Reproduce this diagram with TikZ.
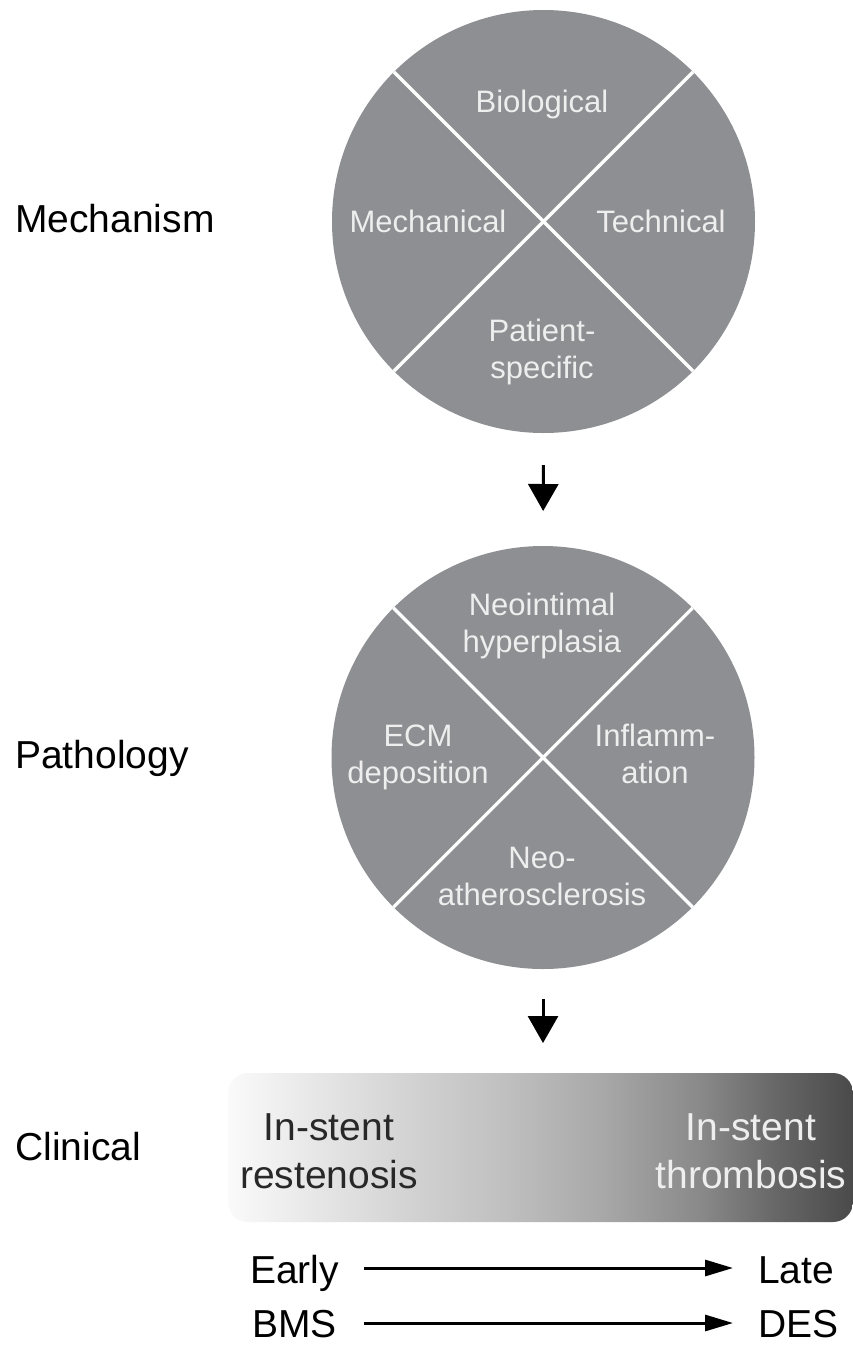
\documentclass[tikz,border=0pt]{standalone}
\usepackage{fontspec}
\setmainfont{Liberation Sans}
\usetikzlibrary{arrows.meta}
\definecolor{diskgray}{RGB}{142,143,146}
\definecolor{disktext}{RGB}{238,238,238}
\definecolor{darktext}{RGB}{40,40,40}
\definecolor{sA}{RGB}{250,250,250}
\definecolor{sB}{RGB}{228,228,228}
\definecolor{sC}{RGB}{208,208,208}
\definecolor{sD}{RGB}{192,192,192}
\definecolor{sE}{RGB}{168,168,168}
\definecolor{sF}{RGB}{136,136,136}
\definecolor{sG}{RGB}{102,102,102}
\definecolor{sH}{RGB}{74,74,74}
\pgfdeclarehorizontalshading{barshade}{100bp}{color(0bp)=(sA); color(25bp)=(sA); color(33bp)=(sB); color(40.5bp)=(sC); color(47bp)=(sD); color(55bp)=(sE); color(63bp)=(sF); color(69bp)=(sG); color(75bp)=(sH); color(100bp)=(sH)}
\tikzset{
  lab/.style={font=\fontsize{39}{46}\selectfont, anchor=base west, inner sep=0pt, text=black},
  disk/.style={circle, fill=diskgray, minimum size=423pt, inner sep=0pt, outer sep=0pt},
  cross/.style={draw=white, line width=3.2pt},
  dtext/.style={font=\fontsize{31}{36.5}\selectfont, text=disktext, align=center, inner sep=0pt, anchor=base},
  btext/.style={font=\fontsize{39}{48}\selectfont, align=center, inner sep=0pt, anchor=base},
  bar/.style={shading=barshade, rounded corners=20pt, minimum width=625pt, minimum height=149pt, inner sep=0pt, outer sep=0pt},
  varrow/.style={line width=3pt, -{Triangle[length=27pt,width=30pt]}},
  harrow/.style={line width=3pt, -{Triangle[length=28pt,width=16pt]}}
}
\begin{document}
\begin{tikzpicture}[x=1pt,y=-1pt]
\path[use as bounding box, fill=white] (0,0) rectangle (853,1345);

% left labels
\node[lab] (mech) at (15,232) {Mechanism};
\node[lab] (path) at (15,768) {Pathology};
\node[lab] (clin) at (15,1160) {Clinical};

% circle 1
\node[disk] (c1) at (543.5,221.5) {};
\draw[cross] (c1.north west) -- (c1.south east);
\draw[cross] (c1.north east) -- (c1.south west);
\node[dtext] (bio) at (542,112) {Biological};
\node[dtext] (mec) at (428,232) {Mechanical};
\node[dtext] (tec) at (661,232) {Technical};
\node[dtext] (pat) at (542,378) {Patient-\\specific};

% circle 2
\node[disk] (c2) at (543,757.5) {};
\draw[cross] (c2.north west) -- (c2.south east);
\draw[cross] (c2.north east) -- (c2.south west);
\node[dtext] (neo) at (542,652) {Neointimal\\hyperplasia};
\node[dtext] (ecm) at (418,783) {ECM\\deposition};
\node[dtext] (inf) at (655,783) {Inflamm-\\ation};
\node[dtext] (ath) at (542,905) {Neo-\\atherosclerosis};

% clinical bar
\node[bar] (cb) at (540.5,1147.5) {};
\node[btext, text=darktext] (isr) at (329,1188) {In-stent\\restenosis};
\node[btext, text=disktext] (ist) at (751,1188) {In-stent\\thrombosis};

% down arrows
\draw[varrow, shorten <=32pt, shorten >=35pt] (c1.south) -- (c2.north);
\draw[varrow, shorten <=30pt, shorten >=30pt] (c2.south) -- (cb.north -| c2.south);

% timelines
\node[lab] (early) at (250,1283) {Early};
\node[lab] (late) at (758,1283) {Late};
\node[lab] (bms) at (252,1337) {BMS};
\node[lab] (des) at (758,1337) {DES};
\draw[harrow] ([xshift=25pt,yshift=15pt]early.base east) -- ([xshift=-25pt,yshift=15pt]late.base west);
\draw[harrow] ([xshift=27pt,yshift=14pt]bms.base east) -- ([xshift=-25pt,yshift=14pt]des.base west);
\end{tikzpicture}
\end{document}
